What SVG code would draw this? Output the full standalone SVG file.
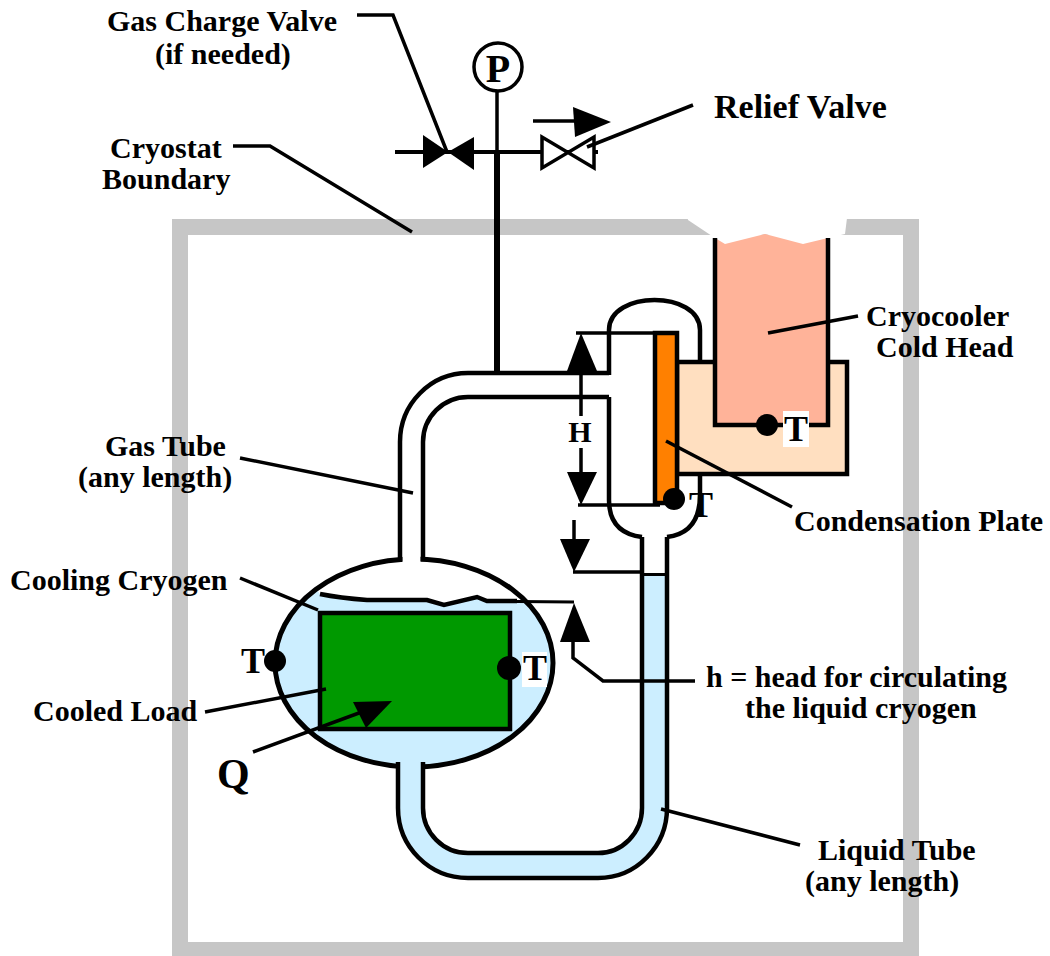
<svg xmlns="http://www.w3.org/2000/svg" width="1050" height="956" viewBox="0 0 1050 956">
<style>
text{font-family:"Liberation Serif","Times New Roman",serif;font-weight:bold;font-size:30px;fill:#000}
text.t{font-size:36px}
text.big{font-size:34px}
text.p{font-size:40px;text-anchor:middle}
text.q{font-size:42px}
text.h{font-size:30px;text-anchor:middle}
.ol{fill:none;stroke:#000;stroke-width:4.5}
.ld{fill:none;stroke:#000;stroke-width:3.5}
.ar{fill:#000;stroke:none}
.dot{fill:#000}
</style>
<defs>
<clipPath id="ve"><ellipse cx="414" cy="663" rx="139" ry="104"/></clipPath>
</defs>
<rect width="1050" height="956" fill="#fff"/>
<g id="cryostat">
<rect x="180" y="227" width="731" height="723" fill="none" stroke="#c6c6c6" stroke-width="16"/>
</g>
<g id="cryocooler">
<polygon points="686,210 848,210 845,234 828,238 803,244 765,234 725,244 715,238 688,220" fill="#fff"/>
<rect x="677" y="362" width="170" height="112" fill="#ffdfc0" stroke="#000" stroke-width="4.5"/>
<path d="M715,238 L725,244 L765,234 L803,244 L828,238 L828,425 L715,425 Z" fill="#ffb399"/>
<path d="M715,238 V425 H828 V238" class="ol"/>
<circle cx="767" cy="425" r="11" class="dot"/>
<rect x="783" y="411" width="26" height="36" fill="#fff"/>
<text x="784" y="441" class="t">T</text>
</g>
<g id="condenser">
<path d="M609,375 V330 C609,290 700,290 700,330 V362" class="ol"/>
<path d="M609,397 V500 Q609,533 642,537" class="ol"/>
<path d="M700,474 V495 Q700,533 667,537" class="ol"/>
<rect x="655" y="333" width="22" height="170" fill="#ff8000" stroke="#000" stroke-width="4.5"/>
<circle cx="674" cy="499" r="11" class="dot"/>
<text x="689" y="517" class="t">T</text>
</g>
<g id="vessel">
<ellipse cx="414" cy="663" rx="139" ry="104" fill="#cceeff"/>
<path clip-path="url(#ve)" d="M320,594 Q300,570 300,540 H560 V601 H517 L487,601 L477,597 L444,605 L427,600 L367,600 Q340,598 320,594 Z" fill="#fff"/>
<ellipse cx="414" cy="663" rx="139" ry="104" fill="none" stroke="#000" stroke-width="5"/>
<rect x="402.5" y="545" width="18" height="30" fill="#fff"/>
</g>
<g id="liquid-tube">
<path d="M654.5,574 V808 A56.5,57.5 0 0 1 598,865.5 H468 A57.5,57.5 0 0 1 410.5,808 V750" fill="none" stroke="#cceeff" stroke-width="21"/>
<path d="M398,762 V808 A70,70 0 0 0 468,878 H598 A69,70 0 0 0 667,808 V537" class="ol"/>
<path d="M423,762 V808 A45,45 0 0 0 468,853 H598 A44,45 0 0 0 642,808 V537" class="ol"/>
<line x1="642" y1="574.5" x2="667" y2="574.5" stroke="#000" stroke-width="3"/>
</g>
<g id="gas-tube">
<path d="M400,561 V442 A68,69 0 0 1 468,373 H609" class="ol"/>
<path d="M423,561 V442 A45,45 0 0 1 468,397 H609" class="ol"/>
</g>
<g id="load">
<rect x="320" y="613" width="190" height="116" fill="#009900" stroke="#000" stroke-width="4.5"/>
<path d="M320,594 Q340,598 367,600 L427,600 L444,605 L477,597 L487,601 L517,601" class="ol" stroke-width="4"/>
<circle cx="275" cy="661" r="11" class="dot"/>
<text x="241" y="673" class="t">T</text>
<circle cx="509" cy="668" r="12" class="dot"/>
<rect x="522" y="652" width="25" height="35" fill="#fff"/>
<text x="523" y="680" class="t">T</text>
</g>
<g id="valves">
<line x1="395" y1="152" x2="598" y2="152" stroke="#000" stroke-width="4"/>
<line x1="497" y1="91" x2="497" y2="152" stroke="#000" stroke-width="3.5"/>
<line x1="497" y1="152" x2="497" y2="375" stroke="#000" stroke-width="6"/>
<circle cx="498" cy="67" r="24" fill="#fff" stroke="#000" stroke-width="3.5"/>
<text x="498" y="82" class="p">P</text>
<polygon points="423,135 423,168 448,152" class="ar"/>
<polygon points="474,137 474,170 448,152" class="ar"/>
<path d="M542,137 L542,168 L594,137 L594,168 Z" fill="#fff" stroke="#000" stroke-width="3.5"/>
<line x1="533" y1="121" x2="580" y2="121" stroke="#000" stroke-width="3.5"/>
<polygon points="573,107 611,122 575,137" class="ar"/>
</g>
<g id="connectors">
<path d="M357,15 H393 L447,152" class="ld"/>
<path d="M693,105 L587,147" class="ld"/>
<path d="M233,146 H270 L412,232" class="ld"/>
<path d="M858,316 L768,333" class="ld"/>
<path d="M792,507 L666,441" class="ld"/>
<path d="M240,458 L413,493" class="ld"/>
<path d="M240,578 L318,610" class="ld"/>
<path d="M205,712 L326,689" class="ld"/>
<path d="M800,845 L661,809" class="ld"/>
<line x1="253" y1="752" x2="378" y2="706" stroke="#000" stroke-width="3.5"/>
<polygon points="353,702 392,701 366,728" class="ar"/>
<line x1="576" y1="333" x2="655" y2="333" stroke="#000" stroke-width="3.5"/>
<line x1="578" y1="505" x2="660" y2="505" stroke="#000" stroke-width="3.5"/>
<path d="M581,368 V416 M581,448 V475" class="ld"/>
<polygon points="581,333 567,371 597,371" class="ar"/>
<polygon points="581,505 567,472 597,472" class="ar"/>
<text x="580" y="442" class="h">H</text>
<line x1="574" y1="520" x2="574" y2="541" stroke="#000" stroke-width="3.5"/>
<polygon points="560,539 590,539 574,572" class="ar"/>
<line x1="573" y1="572" x2="642" y2="572" stroke="#000" stroke-width="3.5"/>
<line x1="517" y1="601.5" x2="574" y2="602" stroke="#000" stroke-width="3"/>
<polygon points="574,603 560,642 590,642" class="ar"/>
<path d="M573,640 V658 L603,681 H695" class="ld"/>
</g>
<g id="labels">
<text x="107" y="31">Gas Charge Valve</text>
<text x="155" y="64">(if needed)</text>
<text x="714" y="118" class="big">Relief Valve</text>
<text x="110" y="158">Cryostat</text>
<text x="102" y="189">Boundary</text>
<text x="866" y="326">Cryocooler</text>
<text x="876" y="357">Cold Head</text>
<text x="794" y="531">Condensation Plate</text>
<text x="105" y="456">Gas Tube</text>
<text x="78" y="487">(any length)</text>
<text x="10" y="590">Cooling Cryogen</text>
<text x="33" y="721">Cooled Load</text>
<text x="217" y="788" class="q">Q</text>
<text x="706" y="687">h = head for circulating</text>
<text x="745" y="718">the liquid cryogen</text>
<text x="818" y="860">Liquid Tube</text>
<text x="805" y="891">(any length)</text>
</g>
</svg>
